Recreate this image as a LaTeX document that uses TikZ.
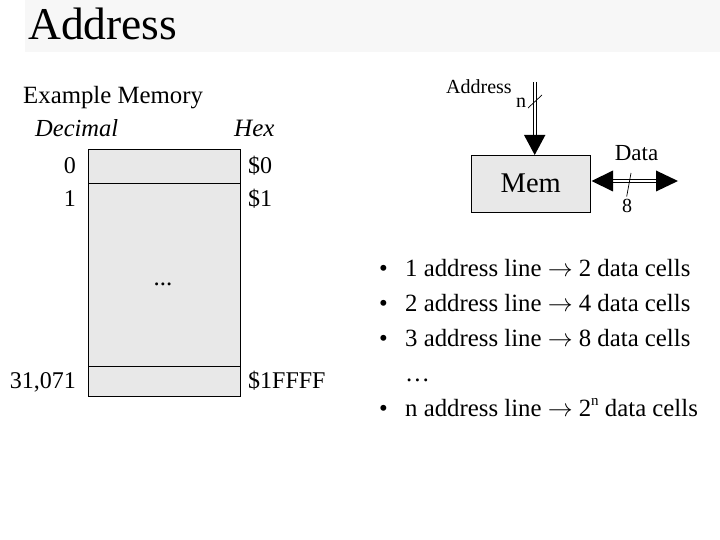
\documentclass[tikz,border=0pt]{standalone}
\usepackage{fontspec}
\setmainfont{Liberation Serif}
\definecolor{titlebg}{HTML}{F7F7F7}
\definecolor{memgray}{HTML}{E8E8E8}
\begin{document}
\begin{tikzpicture}[x=1pt,y=-1pt,
  lbl/.style={inner sep=0pt, font=\fontsize{24.8}{28}\selectfont},
  num/.style={inner sep=0pt, font=\fontsize{24}{27}\selectfont},
  small/.style={inner sep=0pt, font=\fontsize{20}{24}\selectfont},
  bus/.style={double, double distance=2.4pt, line width=0.7pt},
  cell/.style={draw, line width=0.8pt, fill=memgray, inner sep=0pt},
  head/.style={fill=black}]
\useasboundingbox (0,0) rectangle (720,540);
\fill[titlebg] (25,0) rectangle (720,52);
\node[anchor=base west, inner sep=0pt, font=\fontsize{45.5}{50}\selectfont] (title) at (28,40) {Address};

% Example memory
\node[lbl, anchor=base west] (ex) at (23,104) {Example Memory};
\node[lbl, anchor=base west, font=\fontsize{24.5}{28}\selectfont\itshape] (dec) at (35,137) {Decimal};
\node[lbl, anchor=base west, font=\fontsize{25}{28}\selectfont\itshape] (hex) at (234,137) {Hex};
\node[cell, anchor=north west, minimum width=152, minimum height=247] (memory) at (88,149) {};
\coordinate (l1w) at (88,183.5);
\coordinate (l1e) at (240,183.5);
\coordinate (l2w) at (88,366);
\coordinate (l2e) at (240,366);
\draw[line width=0.8pt] (l1w) -- (l1e);
\draw[line width=0.8pt] (l2w) -- (l2e);
\node[lbl, anchor=base] (dots) at (163,285) {...};
\node[num, anchor=base east] (d0) at (76,174) {0};
\node[num, anchor=base east] (d1) at (76,207) {1};
\node[num, anchor=base east] (dn) at (76,388) {31,071};
\node[num, anchor=base west] (h0) at (248,174) {\$0};
\node[num, anchor=base west] (h1) at (248,207) {\$1};
\node[num, anchor=base west] (hn) at (248,388) {\$1FFFF};

% Mem block
\node[cell, minimum width=119.5, minimum height=57, font=\fontsize{28.5}{32}\selectfont] (mem) at (530.8,183.6) {Mem};
\coordinate (atop) at (534.7,82);
\coordinate (abase) at (534.7,136);
\draw[bus] (atop) -- (abase);
\fill[head] (524,135) -- (545.4,135) -- (534.7,155) -- cycle;
\draw[line width=0.7pt] (528,108) -- (542,95);
\node[small, anchor=base west] (addr) at (446,94) {Address};
\node[small, anchor=base west] (nlab) at (516,108) {n};

\coordinate (dl) at (612,181);
\coordinate (dr) at (657,181);
\draw[bus] (dl) -- (dr);
\fill[head] (613,170.5) -- (613,191.5) -- (591.5,181) -- cycle;
\fill[head] (656,170.5) -- (656,191.5) -- (678,181) -- cycle;
\draw[line width=0.7pt] (626.7,196.5) -- (631,173);
\node[small, anchor=base, font=\fontsize{23}{26}\selectfont] (data) at (636.5,161) {Data};
\node[small, anchor=base] (eight) at (627,213) {8};

% bullets
\foreach \y/\t [count=\i] in {276/{1 address line $\rightarrow$ 2 data cells},
                    311/{2 address line $\rightarrow$ 4 data cells},
                    346/{3 address line $\rightarrow$ 8 data cells},
                    416/{n address line $\rightarrow$ 2\raisebox{0.42em}{\fontsize{15}{16}\selectfont n} data cells}} {
  \node[lbl, anchor=base] (b\i) at (383.5,\y) {•};
  \node[lbl, anchor=base west] (t\i) at (405,\y) {\t};
}
\node[lbl, anchor=base west] (ell) at (405,381) {…};
\end{tikzpicture}
\end{document}
